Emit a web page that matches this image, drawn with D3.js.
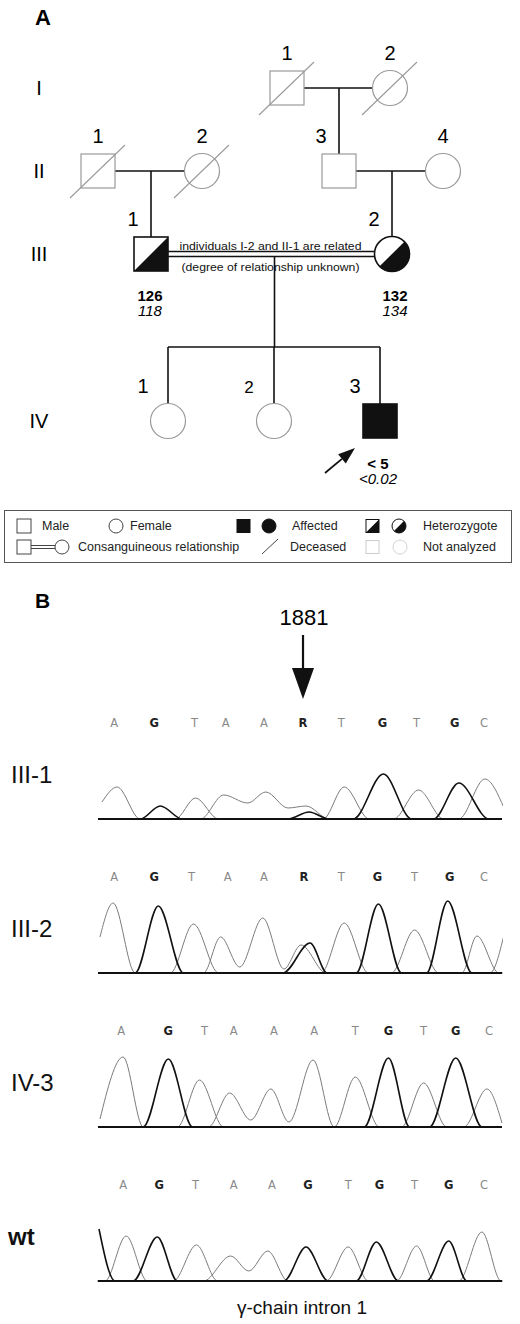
<!DOCTYPE html>
<html>
<head>
<meta charset="utf-8">
<script src="https://cdn.jsdelivr.net/npm/d3@7"></script>
<style>
  body { margin: 0; background: #fff; }
  svg { display: block; font-family: "Liberation Sans", Arial, sans-serif; }
</style>
</head>
<body>
<svg id="fig"></svg>
<script>
const width = 520;
const height = 1324;

// ---- pedigree data ----
const generations = ["I", "II", "III", "IV"];
const people = [
  { id: "I-1", gen: 0, n: 1, col: 287, sex: "m", st: "na", dead: true },
  { id: "I-2", gen: 0, n: 2, col: 390, sex: "f", st: "na", dead: true },
  { id: "II-1", gen: 1, n: 1, col: 98, sex: "m", st: "na", dead: true },
  { id: "II-2", gen: 1, n: 2, col: 202, sex: "f", st: "na", dead: true },
  { id: "II-3", gen: 1, n: 3, col: 339, sex: "m", st: "na", par: 0 },
  { id: "II-4", gen: 1, n: 4, col: 443, sex: "f", st: "na" },
  { id: "III-1", gen: 2, n: 1, col: 151, sex: "m", st: "het", par: 1 },
  { id: "III-2", gen: 2, n: 2, col: 392, sex: "f", st: "het", par: 2 },
  { id: "IV-1", gen: 3, n: 1, col: 168, sex: "f", st: "na", par: 3 },
  { id: "IV-2", gen: 3, n: 2, col: 274, sex: "f", st: "na", par: 3 },
  { id: "IV-3", gen: 3, n: 3, col: 380, sex: "m", st: "aff", par: 3, proband: true },
];
const unions = [["I-1", "I-2"], ["II-1", "II-2"], ["II-3", "II-4"], ["III-1", "III-2"]];
const consanguineous = [false, false, false, true];
const levels = [
  { id: "III-1", bold: "126", ital: "118" },
  { id: "III-2", bold: "132", ital: "134" },
  { id: "IV-3", bold: "< 5", ital: "<0.02" },
];
const relatedNote = ["individuals I-2 and II-1 are related", "(degree of relationship unknown)"];

// ---- sequencing data ----
const samples = ["III-1", "III-2", "IV-3", "wt"];
const baseCalls = ["AGTAARTGTGC", "AGTAARTGTGC", "AGTAAATGTGC", "AGTAAGTGTGC"];
const callScans = [
  [14, 54, 94, 125, 163, 202, 240, 281, 315, 353, 382],
  [14, 54, 91, 127, 163, 203, 240, 276, 313, 348, 382],
  [21, 68, 104, 133, 173, 213, 254, 287, 322, 354, 387],
  [23, 59, 95, 133, 171, 207, 247, 278, 313, 347, 382],
];
// each trace: base channel + [scan, signal] knots (valleys / peaks)
const tracesIII1 = [
  { b: "A", pts: [[2, 17], [17, 32], [40, 0]] },
  { b: "A", pts: [[100, 0], [123, 24], [147, 16], [165, 27], [187, 11], [205, 13], [228, 0]] },
  { b: "T", pts: [[75, 0], [95, 21], [118, 0]] },
  { b: "T", pts: [[222, 0], [243, 32], [268, 0]] },
  { b: "T", pts: [[292, 0], [317, 29], [342, 0]] },
  { b: "C", pts: [[357, 0], [383, 40], [402, 11]] },
  { b: "G", pts: [[40, 0], [60, 13], [82, 0]] },
  { b: "G", pts: [[187, 0], [208, 7], [228, 0]] },
  { b: "G", pts: [[252, 0], [282, 45], [310, 0]] },
  { b: "G", pts: [[332, 0], [357, 36], [387, 0]] },
];
const tracesIII2 = [
  { b: "A", pts: [[0, 36], [13, 70], [35, 0]] },
  { b: "A", pts: [[103, 0], [120, 36], [139, 6], [162, 55], [183, 4], [200, 28], [225, 0]] },
  { b: "A", pts: [[388, 0], [402, 38]] },
  { b: "T", pts: [[70, 0], [93, 49], [118, 0]] },
  { b: "T", pts: [[220, 0], [243, 50], [267, 0]] },
  { b: "T", pts: [[290, 0], [313, 43], [337, 0]] },
  { b: "C", pts: [[360, 0], [375, 37], [397, 0]] },
  { b: "G", pts: [[35, 0], [58, 67], [83, 0]] },
  { b: "G", pts: [[182, 0], [209, 30], [226, 0]] },
  { b: "G", pts: [[255, 0], [277, 69], [300, 0]] },
  { b: "G", pts: [[325, 0], [346, 72], [370, 0]] },
];
const tracesIV3 = [
  { b: "A", pts: [[0, 8], [23, 70], [43, 0]] },
  { b: "A", pts: [[108, 0], [129, 34], [150, 7], [170, 38], [188, 5], [212, 67], [233, 0]] },
  { b: "T", pts: [[77, 0], [99, 47], [123, 0]] },
  { b: "T", pts: [[233, 0], [254, 50], [278, 0]] },
  { b: "T", pts: [[300, 0], [322, 44], [345, 0]] },
  { b: "C", pts: [[362, 0], [385, 38], [400, 4]] },
  { b: "G", pts: [[43, 0], [68, 68], [92, 0]] },
  { b: "G", pts: [[263, 0], [287, 69], [308, 0]] },
  { b: "G", pts: [[328, 0], [354, 69], [380, 0]] },
];
const tracesWt = [
  { b: "A", pts: [[5, 0], [26, 45], [47, 0]] },
  { b: "A", pts: [[103, 0], [130, 25], [148, 10], [167, 30], [187, 0]] },
  { b: "T", pts: [[73, 0], [96, 36], [117, 0]] },
  { b: "T", pts: [[225, 0], [247, 34], [267, 0]] },
  { b: "T", pts: [[295, 0], [315, 35], [333, 0]] },
  { b: "C", pts: [[357, 0], [380, 49], [399, 0]] },
  { b: "G", pts: [[-1, 52], [15, 0]] },
  { b: "G", pts: [[33, 0], [57, 44], [77, 0]] },
  { b: "G", pts: [[183, 0], [205, 34], [227, 0]] },
  { b: "G", pts: [[255, 0], [275, 39], [297, 0]] },
  { b: "G", pts: [[325, 0], [347, 40], [365, 0]] },
];
const traceSets = [tracesIII1, tracesIII2, tracesIV3, tracesWt];
const markerPos = 1881;

// ---- drawing ----
const svg = d3.select("#fig")
  .attr("width", width)
  .attr("height", height)
  .attr("viewBox", [0, 0, width, height]);

svg.append("rect").attr("width", width).attr("height", height).attr("fill", "#fff");

const ink = "#111";
const pale = "#9a9a9a";
const half = 17;

const pedX = d3.scaleLinear().domain([0, width]).range([0, width]);
const genY = d3.scaleOrdinal().domain([0, 1, 2, 3]).range([88, 171, 254, 421]);
const byId = new Map(people.map((p) => [p.id, p]));
const px = (p) => pedX(p.col);
const py = (p) => genY(p.gen);

// panel letter
svg.append("text").attr("x", 35).attr("y", 25)
  .attr("font-size", 22).attr("font-weight", "bold").text("A");

// generation numerals
svg.append("g").selectAll("text").data(generations).join("text")
  .attr("x", 39).attr("y", (d, i) => genY(i) + 7)
  .attr("text-anchor", "middle").attr("font-size", 20).text((d) => d);

const lines = svg.append("g").attr("stroke", ink).attr("stroke-width", 1.6).attr("fill", "none");

// unions and descent lines
unions.forEach(([a, b], i) => {
  const pa = byId.get(a), pb = byId.get(b);
  const y = py(pa);
  const x1 = px(pa) + half, x2 = px(pb) - half;
  if (consanguineous[i]) {
    lines.append("line").attr("x1", x1).attr("x2", x2).attr("y1", y - 2.5).attr("y2", y - 2.5);
    lines.append("line").attr("x1", x1).attr("x2", x2).attr("y1", y + 2.5).attr("y2", y + 2.5);
  } else {
    lines.append("line").attr("x1", x1).attr("x2", x2).attr("y1", y).attr("y2", y);
  }
  const dropTop = consanguineous[i] ? y + 2.5 : y;
  const kids = people.filter((p) => p.par === i);
  if (kids.length === 1) {
    const k = kids[0];
    lines.append("line").attr("x1", px(k)).attr("x2", px(k)).attr("y1", dropTop).attr("y2", py(k) - half);
  } else if (kids.length > 1) {
    const mid = (px(pa) + px(pb)) / 2 + 3;
    const sibY = py(kids[0]) - 74;
    lines.append("line").attr("x1", mid).attr("x2", mid).attr("y1", dropTop).attr("y2", sibY);
    lines.append("line")
      .attr("x1", d3.min(kids, px)).attr("x2", d3.max(kids, px))
      .attr("y1", sibY).attr("y2", sibY);
    kids.forEach((k) => {
      lines.append("line").attr("x1", px(k)).attr("x2", px(k)).attr("y1", sibY).attr("y2", py(k) - half);
    });
  }
});

// note on the consanguineous line
const cu = unions[3].map((id) => byId.get(id));
const noteX = (px(cu[0]) + px(cu[1])) / 2 - 1;
svg.append("g").selectAll("text").data(relatedNote).join("text")
  .attr("x", noteX).attr("y", (d, i) => py(cu[0]) - 4 + i * 21)
  .attr("text-anchor", "middle").attr("font-size", 11.5).attr("fill", ink)
  .attr("textLength", (d, i) => (i === 0 ? 182 : 178))
  .attr("lengthAdjust", "spacingAndGlyphs")
  .text((d) => d);

function symbol(g, cx, cy, sex, st, r, strokeW) {
  const col = st === "na" ? pale : ink;
  const sw = strokeW || (st === "na" ? 1.2 : 1.6);
  if (sex === "m") {
    g.append("rect").attr("x", cx - r).attr("y", cy - r).attr("width", 2 * r).attr("height", 2 * r)
      .attr("fill", st === "aff" ? ink : "#fff").attr("stroke", col).attr("stroke-width", sw);
    if (st === "het") {
      g.append("path")
        .attr("d", `M${cx - r},${cy + r}L${cx + r},${cy + r}L${cx + r},${cy - r}Z`)
        .attr("fill", ink);
    }
  } else {
    g.append("circle").attr("cx", cx).attr("cy", cy).attr("r", r + 0.5)
      .attr("fill", st === "aff" ? ink : "#fff").attr("stroke", col).attr("stroke-width", sw);
    if (st === "het") {
      g.append("path")
        .attr("transform", `translate(${cx},${cy})`)
        .attr("d", d3.arc()({ innerRadius: 0, outerRadius: r + 0.5, startAngle: Math.PI / 4, endAngle: (5 * Math.PI) / 4 }))
        .attr("fill", ink);
    }
  }
}

const symG = svg.append("g");
people.forEach((p) => {
  symbol(symG, px(p), py(p), p.sex, p.st, half);
  if (p.dead) {
    symG.append("line")
      .attr("x1", px(p) - 28).attr("y1", py(p) + 27)
      .attr("x2", px(p) + 27).attr("y2", py(p) - 26)
      .attr("stroke", pale).attr("stroke-width", 1.1);
  }
  const dx = p.par === undefined ? 0 : p.gen === 3 ? -25 : -18;
  symG.append("text")
    .attr("x", px(p) + dx).attr("y", py(p) - 28)
    .attr("text-anchor", "middle").attr("font-size", p.id === "IV-2" ? 17 : 20)
    .text(p.n);
});

// fibrinogen levels
levels.forEach((l) => {
  const p = byId.get(l.id);
  const base = p.proband ? py(p) + 48 : py(p) + 47;
  const x = p.proband ? px(p) - 2 : px(p) + (p.sex === "f" ? 3 : -1);
  svg.append("text").attr("x", x).attr("y", base)
    .attr("text-anchor", "middle").attr("font-size", 15).attr("font-weight", "bold").text(l.bold);
  svg.append("text").attr("x", x).attr("y", base + 15)
    .attr("text-anchor", "middle").attr("font-size", 15).attr("font-style", "italic").text(l.ital);
});

// proband arrow
const prob = people.find((p) => p.proband);
{
  const tx = px(prob) - 25, ty = py(prob) + 27;
  const sx = px(prob) - 55, sy = py(prob) + 52;
  const ang = Math.atan2(ty - sy, tx - sx);
  const L = 17, w = 6;
  const bx = tx - L * Math.cos(ang), by = ty - L * Math.sin(ang);
  svg.append("line").attr("x1", sx).attr("y1", sy).attr("x2", bx).attr("y2", by)
    .attr("stroke", ink).attr("stroke-width", 1.8);
  svg.append("path")
    .attr("d", `M${tx},${ty}L${bx + w * Math.sin(ang)},${by - w * Math.cos(ang)}L${bx - w * Math.sin(ang)},${by + w * Math.cos(ang)}Z`)
    .attr("fill", ink);
}

// ---- legend ----
const lg = svg.append("g");
lg.append("rect").attr("x", 4.5).attr("y", 510.5).attr("width", 507).attr("height", 52)
  .attr("fill", "#fff").attr("stroke", "#555").attr("stroke-width", 1);
const r1 = 526, r2 = 547, lr = 7;
const legendInk = "#444";
// row 1
lg.append("rect").attr("x", 17).attr("y", r1 - lr).attr("width", 14).attr("height", 14)
  .attr("fill", "#fff").attr("stroke", legendInk);
lg.append("circle").attr("cx", 116).attr("cy", r1).attr("r", lr).attr("fill", "#fff").attr("stroke", legendInk);
symbol(lg, 243.5, r1, "m", "aff", 6.5, 1);
symbol(lg, 269, r1, "f", "aff", 6.5, 1);
symbol(lg, 372.5, r1, "m", "het", 6.5, 1);
symbol(lg, 399, r1, "f", "het", 6.5, 1);
// row 2
lg.append("rect").attr("x", 17).attr("y", r2 - lr).attr("width", 14).attr("height", 14)
  .attr("fill", "#fff").attr("stroke", legendInk);
lg.append("line").attr("x1", 31).attr("x2", 55).attr("y1", r2 - 1.5).attr("y2", r2 - 1.5).attr("stroke", legendInk);
lg.append("line").attr("x1", 31).attr("x2", 55).attr("y1", r2 + 1.5).attr("y2", r2 + 1.5).attr("stroke", legendInk);
lg.append("circle").attr("cx", 62).attr("cy", r2).attr("r", lr).attr("fill", "#fff").attr("stroke", legendInk);
lg.append("line").attr("x1", 262).attr("y1", r2 + 7).attr("x2", 278).attr("y2", r2 - 8)
  .attr("stroke", legendInk).attr("stroke-width", 1);
lg.append("rect").attr("x", 366).attr("y", r2 - 6.5).attr("width", 13).attr("height", 13)
  .attr("fill", "#fff").attr("stroke", "#ccc");
lg.append("circle").attr("cx", 400).attr("cy", r2).attr("r", lr).attr("fill", "#fff").attr("stroke", "#d4d4d4");

const legendText = [
  { t: "Male", x: 42, y: r1 + 4 },
  { t: "Female", x: 130, y: r1 + 4 },
  { t: "Affected", x: 292, y: r1 + 4 },
  { t: "Heterozygote", x: 423, y: r1 + 4 },
  { t: "Consanguineous relationship", x: 78, y: r2 + 4 },
  { t: "Deceased", x: 290, y: r2 + 4 },
  { t: "Not analyzed", x: 423, y: r2 + 4 },
];
lg.selectAll("text.lt").data(legendText).join("text")
  .attr("class", "lt").attr("x", (d) => d.x).attr("y", (d) => d.y)
  .attr("font-size", 12.5).attr("fill", "#222").text((d) => d.t);

// ---- panel B ----
svg.append("text").attr("x", 35).attr("y", 608)
  .attr("font-size", 21).attr("font-weight", "bold").text("B");

const scanX = d3.scaleLinear().domain([0, 400]).range([100, 502]);
const sigY = d3.scaleLinear().domain([0, 80]).range([0, -80]);
const rowY = d3.scalePoint().domain(samples).range([819, 1281]);

// mutation position marker
const mX = scanX(callScans[0][5]);
svg.append("text").attr("x", mX + 1).attr("y", 625)
  .attr("text-anchor", "middle").attr("font-size", 22).text(markerPos);
svg.append("line").attr("x1", mX).attr("x2", mX).attr("y1", 635).attr("y2", 672)
  .attr("stroke", ink).attr("stroke-width", 2.2);
svg.append("path").attr("d", `M${mX - 11},668L${mX + 11},668L${mX},699Z`).attr("fill", ink);

const traceLine = d3.line()
  .x((d) => scanX(d[0]))
  .y((d) => sigY(d[1]))
  .curve(d3.curveMonotoneX);

svg.append("defs").append("clipPath").attr("id", "chromClip")
  .append("rect").attr("x", 97).attr("y", -90).attr("width", 406).attr("height", 92);

samples.forEach((s, i) => {
  const g = svg.append("g").attr("transform", `translate(0,${rowY(s)})`);

  g.append("text").attr("x", s === "wt" ? 8 : 11).attr("y", -36)
    .attr("font-size", 24).attr("font-weight", s === "wt" ? "bold" : "normal")
    .attr("fill", ink).text(s);

  const calls = baseCalls[i].split("").map((b, j) => ({ b, s: callScans[i][j] }));
  g.selectAll("text.call").data(calls).join("text")
    .attr("class", "call")
    .attr("x", (d) => scanX(d.s)).attr("y", -92)
    .attr("text-anchor", "middle")
    .attr("font-family", "'DejaVu Sans', sans-serif")
    .attr("font-size", 11.5)
    .attr("font-weight", (d) => (d.b === "G" || d.b === "R" ? "bold" : "normal"))
    .attr("fill", (d) => (d.b === "G" || d.b === "R" ? "#222" : "#888"))
    .text((d) => d.b);

  const tg = g.append("g").attr("clip-path", "url(#chromClip)").attr("fill", "none");
  const sorted = traceSets[i].slice().sort((a, b) => (a.b === "G") - (b.b === "G"));
  tg.selectAll("path").data(sorted).join("path")
    .attr("d", (d) => {
      const pts = d.pts.slice();
      if (pts[0][1] === 0) pts.unshift([pts[0][0] - 10, 0]);
      if (pts[pts.length - 1][1] === 0) pts.push([pts[pts.length - 1][0] + 10, 0]);
      return traceLine(pts);
    })
    .attr("stroke", (d) => (d.b === "G" ? ink : "#7c7c7c"))
    .attr("stroke-width", (d) => (d.b === "G" ? 1.6 : 1));

  g.append("line").attr("x1", scanX(-2)).attr("x2", scanX(400)).attr("y1", 0).attr("y2", 0)
    .attr("stroke", ink).attr("stroke-width", 2);
});

svg.append("text").attr("x", 302).attr("y", 1314)
  .attr("text-anchor", "middle").attr("font-size", 19).attr("fill", ink)
  .text("γ-chain intron 1");
</script>
</body>
</html>
